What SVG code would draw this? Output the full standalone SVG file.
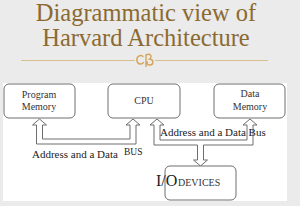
<svg xmlns="http://www.w3.org/2000/svg" width="300" height="206" viewBox="0 0 300 206">
<style>
.title{font-family:"Liberation Serif",serif;font-size:24.5px;fill:#8b6a30;text-anchor:middle}
.box{fill:#fff;stroke:#6e6e6e;stroke-width:1}
.lbl{font-family:"Liberation Serif",serif;font-size:10px;fill:#333;text-anchor:middle}
.bus{font-family:"Liberation Serif",serif;font-size:11px;fill:#222}
.pipe{fill:none;stroke:#6e6e6e;stroke-width:1}
</style>
<rect x="0" y="0" width="300" height="206" fill="#ebebeb"/>
<rect x="3" y="83" width="284" height="118" fill="#fff"/>
<g id="title">
<text class="title" x="146" y="21">Diagrammatic view of</text>
<text class="title" x="146" y="46">Harvard Architecture</text>
<line x1="21" y1="60.5" x2="268" y2="60.5" stroke="#d9bf8f" stroke-width="1"/>
<rect x="135" y="53" width="20" height="13" fill="#ebebeb"/>
<path d="M143,56.5 C140,54 136,57 137,61 C138,65 142,64.5 143.5,62.5 M146,55 C150,53 153,56.5 149.5,59 C154,59.5 154,65 149.5,65 C147.5,65 146.5,63.5 147.5,62 M146,55 L146,66.5" fill="none" stroke="#d4a55a" stroke-width="1.4" stroke-linecap="round"/>
</g>
<g id="connectors">
<path class="pipe" d="M36.5,125 L36.5,144 L136,144 L136,125 L140,125 L133,119 L126,125 L130,125 L130,139 L42.5,139 L42.5,125 L46.5,125 L39.5,119 L32.5,125 Z"/>
<path class="pipe" d="M154,125 L154,145 L197.5,145 L197.5,160 L193.5,160 L200.5,166 L207.5,160 L203.5,160 L203.5,145 L253,145 L253,125 L257,125 L250,119 L243,125 L247,125 L247,140 L160,140 L160,125 L164,125 L157,119 L150,125 Z"/>
</g>
<g id="program-memory">
<rect class="box" x="4" y="84" width="71" height="34" rx="5"/>
<text class="lbl" x="39" y="98">Program</text>
<text class="lbl" x="39" y="110">Memory</text>
</g>
<g id="cpu">
<rect class="box" x="108" y="84" width="72" height="34" rx="5"/>
<text class="lbl" x="144" y="104">CPU</text>
</g>
<g id="data-memory">
<rect class="box" x="214" y="84" width="71" height="34" rx="5"/>
<text class="lbl" x="250" y="97">Data</text>
<text class="lbl" x="250" y="110">Memory</text>
</g>
<g id="io-devices">
<rect class="box" x="165" y="166" width="71" height="34" rx="5"/>
<text x="156" y="186" font-family="Liberation Serif, serif" font-size="16" fill="#222">I/O</text>
<text x="178" y="186" font-family="Liberation Serif, serif" font-size="10" fill="#333">DEVICES</text>
</g>
<g id="bus-labels">
<text class="bus" x="32" y="158">Address and a Data</text>
<text x="124" y="155" font-family="Liberation Serif, serif" font-size="9.5" fill="#222">BUS</text>
<text class="bus" x="160" y="136">Address and a Data Bus</text>
</g>
</svg>
